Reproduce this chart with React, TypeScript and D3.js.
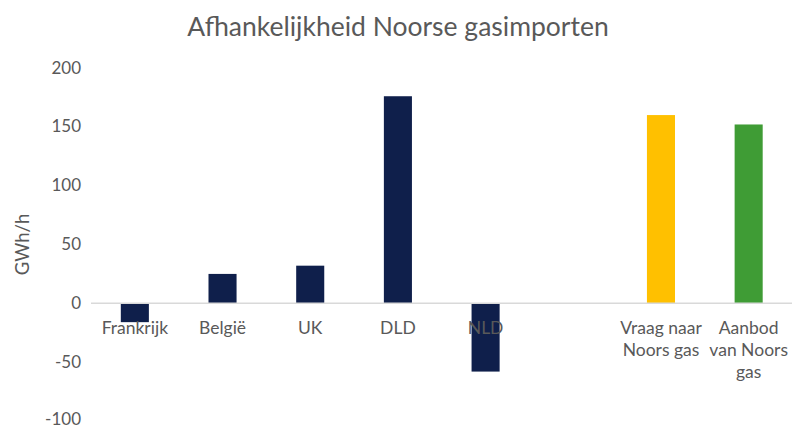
import * as d3 from "d3";

const categories = ["Frankrijk", "België", "UK", "DLD", "NLD", "", "Vraag naar\nNoors gas", "Aanbod\nvan Noors\ngas"];
const values: (number | null)[] = [-16, 25, 32, 176, -58, null, 160, 152];
const barColors = ["#0f1f4b", "#0f1f4b", "#0f1f4b", "#0f1f4b", "#0f1f4b", "#0f1f4b", "#ffc000", "#3f9c35"];
const yTicks = [-100, -50, 0, 50, 100, 150, 200];

const W = 792, H = 428;
const margin = { top: 68, right: 0, bottom: 7, left: 91 };
const FONT = "Lato, 'Open Sans', sans-serif";

export default function App() {
  const x = d3.scaleBand<number>()
    .domain(d3.range(categories.length))
    .range([margin.left, W + 0.5])
    .paddingInner(0.68)
    .paddingOuter(0.34);
  const y = d3.scaleLinear().domain([-100, 200]).range([H - margin.bottom, margin.top]);

  return (
    <svg width={W} height={H} style={{ position: "absolute", left: 0, top: 0, background: "#fff" }}>
      <text x={398} y={36} textAnchor="middle" fontFamily={FONT} fontSize={26.5} fill="#595959">
        Afhankelijkheid Noorse gasimporten
      </text>
      <text transform={`translate(29,${y(50)}) rotate(-90)`} textAnchor="middle" fontFamily={FONT} fontSize={18.5} fill="#595959">
        GWh/h
      </text>
      {yTicks.map(t => (
        <text key={t} x={81} y={y(t)} dy={t === -100 ? "0.22em" : "0.33em"} textAnchor="end" fontFamily={FONT} fontSize={17} fill="#595959">
          {t}
        </text>
      ))}
      {values.map((v, i) =>
        v == null ? null : (
          <rect key={i} x={x(i)} width={x.bandwidth()}
            y={y(Math.max(0, v))} height={Math.abs(y(v) - y(0))} fill={barColors[i]} />
        )
      )}
      <line x1={margin.left} x2={W} y1={y(0)} y2={y(0)} stroke="#d9d9d9" strokeWidth={1.5} />
      {categories.map((c, i) => (
        <text key={i} x={(x(i) ?? 0) + x.bandwidth() / 2} y={334} textAnchor="middle"
          fontFamily={FONT} fontSize={17.5} fill="#595959">
          {c.split("\n").map((line, j) => (
            <tspan key={j} x={(x(i) ?? 0) + x.bandwidth() / 2} dy={j === 0 ? 0 : 22}>{line}</tspan>
          ))}
        </text>
      ))}
    </svg>
  );
}
